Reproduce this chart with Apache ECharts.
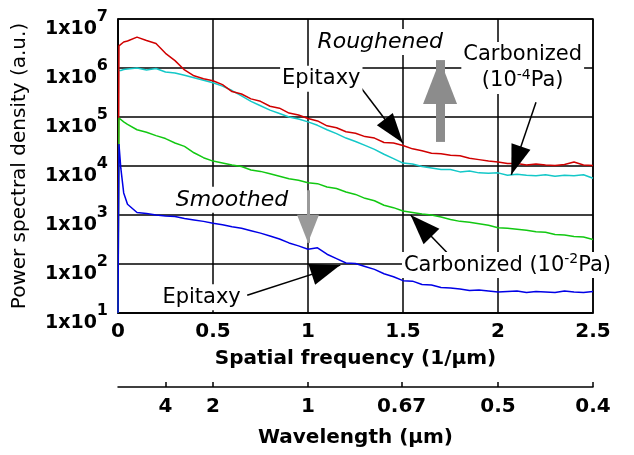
<!DOCTYPE html>
<html>
<head>
<meta charset="utf-8" />
<title>Power spectral density</title>
<script src="https://cdn.jsdelivr.net/npm/echarts@6/dist/echarts.min.js"></script>
</head>
<body style="margin:0">
<div id="main" style="width:634px;height:455px;"></div>
<script>
// spatial frequency samples (1/um)
var freq = [0, 0.005, 0.015, 0.03,
  0.05, 0.10, 0.15, 0.20, 0.25, 0.30, 0.35, 0.40, 0.45, 0.50,
  0.55, 0.60, 0.65, 0.70, 0.75, 0.80, 0.85, 0.90, 0.95, 1.00,
  1.05, 1.10, 1.15, 1.20, 1.25, 1.30, 1.35, 1.40, 1.45, 1.50,
  1.55, 1.60, 1.65, 1.70, 1.75, 1.80, 1.85, 1.90, 1.95, 2.00,
  2.05, 2.10, 2.15, 2.20, 2.25, 2.30, 2.35, 2.40, 2.45, 2.50];

// log10 of PSD
var carb4Log = [1.0, 6.45, 6.48, 6.53,
  6.55, 6.63, 6.56, 6.50, 6.30, 6.15, 5.96, 5.84, 5.78, 5.74,
  5.66, 5.52, 5.47, 5.37, 5.32, 5.22, 5.18, 5.08, 5.04, 4.97,
  4.92, 4.82, 4.78, 4.70, 4.67, 4.60, 4.57, 4.48, 4.47, 4.42,
  4.35, 4.31, 4.26, 4.25, 4.22, 4.21, 4.16, 4.13, 4.10, 4.08,
  4.05, 4.05, 4.02, 4.04, 4.02, 4.01, 4.03, 4.08, 4.02, 4.01];
var epiRoughLog = [5.95, 5.96, 5.95, 5.97,
  5.98, 6.00, 5.96, 5.99, 5.92, 5.90, 5.85, 5.80, 5.75, 5.70,
  5.63, 5.54, 5.43, 5.32, 5.23, 5.14, 5.07, 5.00, 4.96, 4.90,
  4.83, 4.74, 4.66, 4.57, 4.50, 4.42, 4.34, 4.24, 4.15, 4.06,
  4.04, 3.99, 3.96, 3.93, 3.93, 3.88, 3.90, 3.86, 3.85, 3.86,
  3.81, 3.83, 3.81, 3.80, 3.82, 3.79, 3.81, 3.80, 3.82, 3.75];
var carb2Log = [1.0, 4.98, 4.94, 4.90,
  4.85, 4.74, 4.69, 4.62, 4.56, 4.47, 4.40, 4.27, 4.17, 4.10,
  4.06, 4.02, 3.99, 3.92, 3.89, 3.84, 3.79, 3.74, 3.71, 3.66,
  3.64, 3.57, 3.54, 3.47, 3.42, 3.34, 3.29, 3.20, 3.15, 3.08,
  3.05, 3.02, 3.00, 2.96, 2.91, 2.87, 2.85, 2.82, 2.79, 2.74,
  2.73, 2.71, 2.69, 2.66, 2.65, 2.60, 2.59, 2.56, 2.55, 2.50];
var epiSmoothLog = [1.0, 4.45, 3.95, 3.45,
  3.22, 3.05, 3.03, 3.00, 2.98, 2.97, 2.93, 2.90, 2.87, 2.83,
  2.80, 2.76, 2.73, 2.68, 2.63, 2.57, 2.51, 2.43, 2.37, 2.30,
  2.33, 2.20, 2.11, 2.02, 2.01, 1.95, 1.89, 1.80, 1.74, 1.66,
  1.65, 1.58, 1.57, 1.52, 1.51, 1.49, 1.46, 1.47, 1.45, 1.43,
  1.44, 1.45, 1.42, 1.44, 1.43, 1.42, 1.45, 1.43, 1.42, 1.44];

// wavelength axis ticks (um)
var wavelengths = [4, 2, 1, 0.67, 0.5, 0.4];
var wlLabels = ['4', '2', '1', '0.67', '0.5', '0.4'];

var FONT = 'DejaVu Sans';
var chart = echarts.init(document.getElementById('main'));

function pts(logs) {
  return freq.map(function (f, i) { return [f, Math.pow(10, logs[i])]; });
}
var wlPos = wavelengths.map(function (w) { return 1 / w; });

function arrow(from, to, head) {
  return [{ coord: from },
    { coord: to, symbol: 'triangle', symbolSize: head, symbolOffset: [0, '50%'] }];
}
function note(coord, text) {
  return {
    coord: coord, symbol: 'rect', symbolSize: 1,
    itemStyle: { color: 'rgba(0,0,0,0)' },
    label: {
      show: true, position: 'inside', formatter: text,
      backgroundColor: '#fff', padding: [0, 2],
      rich: {
        t: { fontFamily: FONT, fontSize: 21, color: '#000', lineHeight: 26 },
        s: { fontFamily: FONT, fontSize: 14, color: '#000', lineHeight: 20, verticalAlign: 'top' },
        i: { fontFamily: FONT, fontSize: 22, color: '#000', fontStyle: 'italic', lineHeight: 26 }
      }
    }
  };
}

var blackLine = { color: '#000', width: 1.5 };

var option = {
  animation: false,
  textStyle: { fontFamily: FONT },
  grid: [
    { left: 118, right: 41, top: 19, bottom: 142, show: true, borderColor: '#000', borderWidth: 1.5 },
    { left: 118, right: 41, top: 386, height: 1 }
  ],
  xAxis: [
    {
      type: 'value', gridIndex: 0, min: 0, max: 2.5, interval: 0.5,
      name: 'Spatial frequency (1/\u03bcm)', nameLocation: 'middle', nameGap: 36,
      nameTextStyle: { fontFamily: FONT, fontSize: 20, fontWeight: 'bold', color: '#000' },
      axisLine: { lineStyle: blackLine },
      axisTick: { show: false },
      splitLine: { lineStyle: blackLine },
      axisLabel: { fontFamily: FONT, fontSize: 20, fontWeight: 'bold', color: '#000', margin: 9 }
    },
    {
      type: 'value', gridIndex: 1, min: 0, max: 2.5,
      name: 'Wavelength (\u03bcm)', nameLocation: 'middle', nameGap: 41,
      nameTextStyle: { fontFamily: FONT, fontSize: 20, fontWeight: 'bold', color: '#000' },
      axisLine: { onZero: false, lineStyle: blackLine },
      axisTick: { show: true, inside: true, length: 5, customValues: wlPos, lineStyle: blackLine },
      splitLine: { show: false },
      axisLabel: {
        fontFamily: FONT, fontSize: 20, fontWeight: 'bold', color: '#000', margin: 10,
        customValues: wlPos,
        formatter: function (v) {
          var best = 0;
          for (var i = 1; i < wlPos.length; i++) {
            if (Math.abs(wlPos[i] - v) < Math.abs(wlPos[best] - v)) best = i;
          }
          return wlLabels[best];
        }
      }
    }
  ],
  yAxis: [
    {
      type: 'log', logBase: 10, gridIndex: 0, min: 10, max: 1e7,
      name: 'Power spectral density (a.u.)', nameLocation: 'middle', nameGap: 88,
      nameTextStyle: { fontFamily: FONT, fontSize: 20, color: '#000' },
      axisLine: { lineStyle: blackLine },
      axisTick: { show: false },
      splitLine: { lineStyle: blackLine },
      axisLabel: {
        margin: 10,
        // spacer line on top pushes "1x10" below the grid line, exponent sits on it
        formatter: function (v) {
          return '{sp| }\n{b|1x10}{s|' + Math.round(Math.log(v) / Math.LN10) + '}';
        },
        rich: {
          sp: { fontSize: 1, lineHeight: 9 },
          b: { fontFamily: FONT, fontSize: 19, fontWeight: 'bold', color: '#000', lineHeight: 30, verticalAlign: 'bottom' },
          s: { fontFamily: FONT, fontSize: 16, fontWeight: 'bold', color: '#000', lineHeight: 18, verticalAlign: 'top' }
        }
      }
    },
    { type: 'value', gridIndex: 1, min: 0, max: 1, show: false }
  ],
  series: [
    {
      name: 'Epitaxy (roughened)', type: 'line', data: pts(epiRoughLog),
      showSymbol: false, lineStyle: { color: '#14c8c8', width: 1.5 }, itemStyle: { color: '#14c8c8' }
    },
    {
      name: 'Carbonized 1e-4 Pa', type: 'line', data: pts(carb4Log),
      showSymbol: false, lineStyle: { color: '#d00000', width: 1.5 }, itemStyle: { color: '#d00000' }
    },
    {
      name: 'Carbonized 1e-2 Pa', type: 'line', data: pts(carb2Log),
      showSymbol: false, lineStyle: { color: '#12c812', width: 1.5 }, itemStyle: { color: '#12c812' }
    },
    {
      name: 'Epitaxy (smoothed)', type: 'line', data: pts(epiSmoothLog),
      showSymbol: false, lineStyle: { color: '#0000e6', width: 1.5 }, itemStyle: { color: '#0000e6' },
      markLine: {
        silent: true, symbol: ['none', 'none'], label: { show: false },
        lineStyle: { color: '#000', width: 1.5, type: 'solid' },
        data: [
          arrow([1.28, 3.9e5], [1.5, 2.95e4], [20, 30]),
          arrow([2.2, 2.0e5], [2.07, 6.6e3], [20, 30]),
          arrow([1.73, 174], [1.54, 1000], [22, 30]),
          arrow([0.68, 23], [1.17, 95], [22, 30])
        ]
      },
      markPoint: {
        silent: true,
        data: [
          note([1.07, 6.0e5], '{t|Epitaxy}'),
          note([2.13, 1.0e6], '{t|Carbonized}\n{t|(10}{s|-4}{t|Pa)}'),
          note([1.38, 3.4e6], '{i|Roughened}'),
          note([0.6, 2040], '{i|Smoothed}'),
          note([2.05, 95], '{t|Carbonized (10}{s|-2}{t|Pa)}'),
          note([0.44, 21], '{t|Epitaxy}')
        ]
      }
    },
    {
      name: 'trend', type: 'line', data: [],
      markLine: {
        silent: true, symbol: ['none', 'none'], label: { show: false },
        data: [
          [{ coord: [1.695, 3.1e4], lineStyle: { color: '#8c8c8c', width: 9, type: 'solid' } },
           { coord: [1.695, 1.45e6], symbol: 'triangle', symbolSize: [34, 44], symbolOffset: [0, '50%'] }],
          [{ coord: [1.0, 3.2e3], lineStyle: { color: '#9a9a9a', width: 3, type: 'solid' } },
           { coord: [1.0, 270], symbol: 'triangle', symbolSize: [22, 28], symbolOffset: [0, '50%'] }]
        ]
      }
    }
  ]
};

chart.setOption(option);
</script>
</body>
</html>
